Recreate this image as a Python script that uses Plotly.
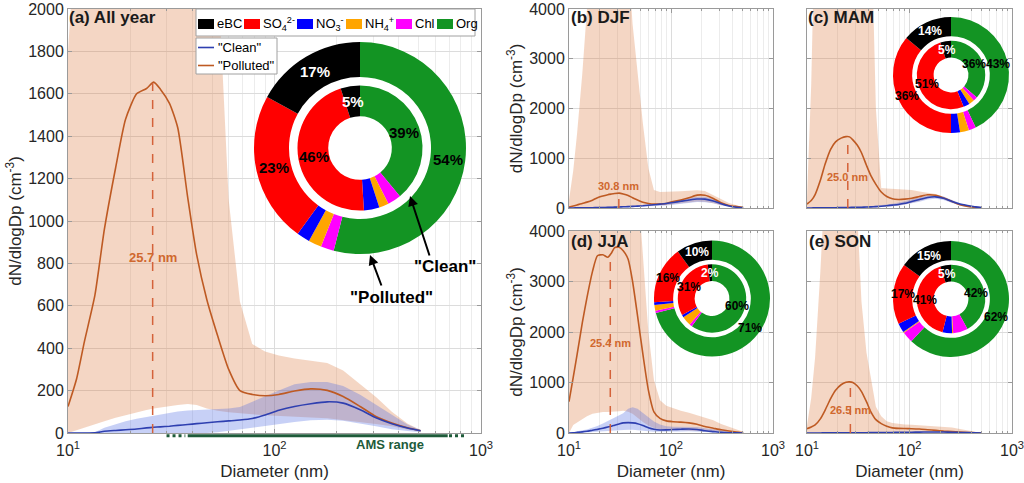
import numpy as np
import plotly.graph_objects as go

W, H = 1024, 483
FONT = "Liberation Sans, Arial, Helvetica, sans-serif"

# ---------------------------------------------------------------- data
diameter_nm = [10, 11, 12, 13.5, 15, 17, 19, 21.5, 24, 26, 28, 31, 34, 38, 42, 47,
               53, 60, 68, 78, 90, 105, 125, 150, 180, 215, 260, 310, 370, 440, 510]

# (a) All year
all_pol_mean = [125, 255, 430, 650, 960, 1250, 1480, 1600, 1625, 1655, 1622, 1555, 1440, 1110, 840, 630,
                460, 300, 200, 182, 176, 182, 198, 208, 201, 172, 125, 78, 47, 25, 11]
all_pol_hi = [1800, 2600, 3000, 3000, 3000, 3000, 3000, 3000, 3000, 3000, 3000, 3000, 3000, 3000, 3000, 3000,
              2200, 1100, 620, 420, 385, 365, 352, 342, 330, 295, 230, 170, 100, 45, 14]
all_pol_lo = [0, 10, 25, 40, 55, 72, 85, 97, 108, 115, 120, 127, 132, 137, 132, 115,
              105, 98, 92, 88, 84, 80, 76, 73, 70, 62, 52, 42, 32, 16, 8]
all_cln_mean = [0, 0, 0, 1, 8, 12, 15, 19, 24, 27, 29, 32, 36, 40, 44, 48,
                53, 57, 61, 68, 85, 107, 125, 138, 147, 141, 110, 72, 44, 24, 11]
all_cln_hi = [0, 0, 0, 3, 25, 42, 55, 67, 75, 80, 85, 95, 102, 106, 108, 108,
              110, 115, 123, 148, 172, 200, 230, 240, 240, 222, 180, 133, 85, 40, 14]
all_cln_lo = [0, 0, 0, 0, 0, 0, 0, 0, 0, 0, 0, 0, 0, 0, 0, 0,
              3, 8, 14, 22, 32, 42, 52, 60, 62, 58, 46, 32, 18, 9, 4]

# (b) DJF
djf_pol_mean = [20, 40, 60, 92, 118, 158, 205, 240, 268, 280, 290, 298, 282, 252, 205, 160,
                115, 92, 78, 80, 92, 130, 160, 205, 258, 255, 190, 105, 52, 30, 15]
djf_pol_hi = [160, 750, 1500, 2700, 4000, 5000, 5000, 5000, 5000, 5000, 5000, 5000, 5000, 5000, 3700, 2700,
              1700, 800, 360, 320, 320, 325, 335, 345, 355, 340, 260, 170, 100, 55, 15]
djf_pol_lo = [0, 0, 2, 3, 5, 7, 9, 11, 14, 16, 18, 20, 22, 24, 26, 30,
              35, 40, 48, 55, 62, 75, 90, 110, 130, 125, 95, 55, 28, 12, 5]
djf_cln_mean = [0, 1, 2, 3, 4, 6, 8, 10, 13, 15, 17, 20, 24, 28, 32, 38,
                45, 55, 65, 77, 90, 110, 135, 160, 180, 178, 140, 85, 40, 15, 5]
djf_cln_hi = [0, 2, 3, 5, 7, 9, 12, 15, 18, 21, 24, 28, 33, 38, 43, 50,
              58, 70, 82, 96, 112, 135, 165, 198, 228, 225, 180, 112, 55, 22, 7]
djf_cln_lo = [0, 0, 1, 1, 2, 3, 4, 5, 7, 8, 9, 11, 13, 15, 17, 20,
              24, 30, 36, 44, 52, 65, 80, 100, 120, 118, 95, 55, 25, 8, 3]

# (c) MAM
mam_pol_mean = [80, 150, 270, 556, 880, 1180, 1330, 1405, 1435, 1430, 1370, 1260, 1110, 860, 650, 475,
                320, 230, 185, 172, 178, 195, 230, 265, 255, 200, 130, 65, 33, 12, 3]
mam_pol_hi = [200, 2500, 6000, 6000, 6000, 6000, 6000, 6000, 6000, 6000, 6000, 6000, 6000, 6000, 6000, 2000,
              400, 390, 385, 380, 375, 360, 330, 300, 280, 225, 150, 85, 42, 16, 4]
mam_pol_lo = [0, 0, 0, 0, 0, 0, 0, 0, 0, 0, 0, 2, 4, 6, 8, 12,
              18, 25, 35, 50, 70, 100, 140, 190, 215, 175, 105, 50, 24, 8, 2]
mam_cln_mean = [0, 1, 2, 3, 4, 5, 6, 8, 10, 11, 12, 14, 16, 19, 22, 27,
                35, 46, 58, 72, 95, 130, 170, 212, 224, 195, 130, 80, 50, 22, 8]
mam_cln_hi = [0, 1, 2, 4, 6, 8, 10, 13, 16, 18, 20, 23, 27, 32, 37, 44,
              55, 70, 85, 105, 135, 175, 215, 250, 262, 232, 160, 100, 62, 28, 10]
mam_cln_lo = [0, 0, 1, 2, 2, 3, 3, 4, 5, 5, 6, 7, 8, 9, 11, 14,
              18, 25, 34, 45, 62, 92, 128, 172, 186, 160, 100, 60, 36, 15, 5]

# (d) JJA
jja_pol_mean = [621, 1100, 1550, 2180, 2680, 3200, 3510, 3530, 3480, 3560, 3670, 3680, 3610, 3440, 3000, 2320,
                1560, 850, 420, 290, 240, 224, 215, 200, 175, 128, 95, 64, 40, 20, 8]
jja_pol_hi = [6000, 6000, 6000, 6000, 6000, 6000, 6000, 6000, 6000, 6000, 6000, 6000, 6000, 6000, 6000, 5000,
              3500, 2000, 1050, 650, 540, 490, 440, 400, 350, 300, 250, 180, 120, 70, 25]
jja_pol_lo = [0, 160, 210, 280, 330, 380, 400, 415, 415, 415, 420, 430, 440, 420, 380, 300,
              220, 150, 100, 70, 60, 55, 52, 50, 45, 35, 25, 15, 8, 4, 1]
jja_cln_mean = [0, 5, 12, 22, 35, 55, 72, 95, 118, 135, 155, 180, 200, 205, 200, 185,
                150, 105, 75, 60, 62, 68, 75, 80, 70, 45, 28, 12, 6, 3, 1]
jja_cln_hi = [0, 20, 40, 55, 70, 100, 140, 190, 240, 270, 300, 350, 390, 480, 510, 480,
              400, 310, 230, 170, 135, 125, 125, 125, 118, 95, 72, 45, 22, 10, 3]
jja_cln_lo = [0, 1, 3, 6, 10, 16, 22, 30, 38, 44, 50, 58, 64, 66, 64, 58,
              48, 35, 25, 22, 24, 28, 32, 35, 30, 20, 12, 5, 2, 1, 0]

# (e) SON
son_pol_mean = [85, 120, 160, 280, 450, 680, 845, 955, 1005, 1013, 1000, 930, 820, 620, 420, 265,
                185, 135, 102, 92, 88, 85, 78, 65, 52, 38, 28, 18, 10, 4, 1]
son_pol_hi = [150, 700, 1500, 3200, 5000, 5000, 5000, 5000, 5000, 5000, 5000, 4300, 2600, 1600, 1080, 520,
              330, 235, 200, 180, 170, 163, 155, 145, 138, 132, 110, 80, 52, 28, 10]
son_pol_lo = [0, 0, 0, 0, 0, 0, 0, 0, 0, 0, 0, 2, 3, 4, 5, 6,
              8, 10, 12, 14, 15, 16, 17, 17, 16, 14, 11, 8, 5, 3, 1]
son_cln_mean = [0, 0, 1, 1, 2, 2, 3, 3, 4, 4, 5, 5, 6, 6, 7, 8,
                9, 10, 11, 12, 14, 16, 18, 20, 21, 20, 16, 11, 7, 3, 1]
son_cln_hi = [0, 1, 2, 3, 4, 5, 6, 7, 8, 9, 10, 11, 12, 13, 14, 15,
              17, 19, 21, 23, 25, 28, 31, 34, 35, 32, 25, 17, 11, 5, 2]
son_cln_lo = [0, 0, 0, 0, 1, 1, 1, 1, 2, 2, 2, 2, 3, 3, 3, 4,
              4, 5, 5, 6, 7, 8, 9, 10, 10, 10, 8, 5, 3, 1, 0]

peak_dp = [25.7, 30.8, 25.0, 25.4, 26.5]          # mode diameters of "Polluted" (nm)

# chemical composition (%), order: eBC, SO4, NO3, NH4, Chl, Org
comp_names = ["eBC", "SO4", "NO3", "NH4", "Chl", "Org"]
comp_legend = ["eBC", "SO<sub>4</sub><sup>2-</sup>", "NO<sub>3</sub><sup>-</sup>",
               "NH<sub>4</sub><sup>+</sup>", "Chl", "Org"]
all_pol_comp = [17, 23, 2, 2, 2, 54]
all_cln_comp = [5, 46, 4, 2.5, 3.5, 39]
mam_pol_comp = [14, 36, 2.5, 2.5, 2, 43]
mam_cln_comp = [5, 51, 3, 2.6, 2, 36.4]
jja_pol_comp = [10, 16, 0.8, 1.6, 0.6, 71]
jja_cln_comp = [2, 31, 1.2, 4.5, 1.3, 60]
son_pol_comp = [15, 17, 2.6, 0.3, 3.1, 62]
son_cln_comp = [5, 41, 4.5, 0.5, 7, 42]

ams_solid_nm = [38, 690]
ams_dotted_nm = [[30, 37], [700, 830]]

# ---------------------------------------------------------------- style
comp_colors = ["#000000", "#FF0000", "#0000FF", "#FFA500", "#FF00FF", "#139423"]
POL_LINE = "#BE5A23"
POL_FILL = "rgba(217,119,60,0.30)"
CLN_LINE = "#2E3FB0"
CLN_FILL = "rgba(70,100,225,0.30)"
PEAK_COL = "#D4623A"
LABEL_COL = "#D0682E"
AMS_COL = "#1E5B3A"
AXIS_COL = "#9A9A9A"
GRID_MAJ = "#DCDCDC"
GRID_MIN = "#ECECEC"
TXT = "#262626"

TOP = 9     # top edge (px) of the upper row of panels


def px(x):
    return x / W


def py(y):
    return 1 - y / H


panels = [
    dict(tag="(a) All year", xpx=(68, 481), ypx=(TOP, 433), ymax=2000, ytick=200,
         pol=all_pol_mean, pol_hi=all_pol_hi, pol_lo=all_pol_lo,
         cln=all_cln_mean, cln_hi=all_cln_hi, cln_lo=all_cln_lo,
         label_y=830, label_fs=13, xlab=True, ylab=True, tagpos=(67, 6)),
    dict(tag="(b) DJF", xpx=(569, 773), ypx=(TOP, 208), ymax=4000, ytick=1000,
         pol=djf_pol_mean, pol_hi=djf_pol_hi, pol_lo=djf_pol_lo,
         cln=djf_cln_mean, cln_hi=djf_cln_hi, cln_lo=djf_cln_lo,
         label_y=436, label_fs=11, xlab=False, ylab=True, tagpos=(569, 6)),
    dict(tag="(c) MAM", xpx=(807, 1012), ypx=(TOP, 208), ymax=4000, ytick=1000,
         pol=mam_pol_mean, pol_hi=mam_pol_hi, pol_lo=mam_pol_lo,
         cln=mam_cln_mean, cln_hi=mam_cln_hi, cln_lo=mam_cln_lo,
         label_y=614, label_fs=11, xlab=False, ylab=False, tagpos=(806, 6)),
    dict(tag="(d) JJA", xpx=(569, 773), ypx=(231, 433), ymax=4000, ytick=1000,
         pol=jja_pol_mean, pol_hi=jja_pol_hi, pol_lo=jja_pol_lo,
         cln=jja_cln_mean, cln_hi=jja_cln_hi, cln_lo=jja_cln_lo,
         label_y=1782, label_fs=11, xlab=True, ylab=True, tagpos=(569, 230)),
    dict(tag="(e) SON", xpx=(807, 1012), ypx=(231, 433), ymax=4000, ytick=1000,
         pol=son_pol_mean, pol_hi=son_pol_hi, pol_lo=son_pol_lo,
         cln=son_cln_mean, cln_hi=son_cln_hi, cln_lo=son_cln_lo,
         label_y=455, label_fs=11, xlab=True, ylab=False, tagpos=(807, 230)),
]

fig = go.Figure()
annotations = []
shapes = []
D = np.array(diameter_nm, dtype=float)
minor_vals = [v * m for m in (10, 100) for v in range(2, 10)]


def paper_text(x, y, text, size, color="black", xanchor="center", yanchor="middle", bold=False):
    annotations.append(dict(x=px(x), y=py(y), xref="paper", yref="paper", xanchor=xanchor,
                            yanchor=yanchor, showarrow=False,
                            text=("<b>%s</b>" % text) if bold else text,
                            font=dict(size=size, color=color, family=FONT)))


for i, p in enumerate(panels):
    n = "" if i == 0 else str(i + 1)
    xr, yr = "x" + n, "y" + n
    # polluted band
    fig.add_trace(go.Scatter(x=list(D) + list(D[::-1]), y=list(p["pol_hi"]) + list(p["pol_lo"])[::-1],
                             fill="toself", fillcolor=POL_FILL, mode="lines", line=dict(width=0),
                             hoverinfo="skip", showlegend=False, xaxis=xr, yaxis=yr))
    # clean band
    fig.add_trace(go.Scatter(x=list(D) + list(D[::-1]), y=list(p["cln_hi"]) + list(p["cln_lo"])[::-1],
                             fill="toself", fillcolor=CLN_FILL, mode="lines", line=dict(width=0),
                             hoverinfo="skip", showlegend=False, xaxis=xr, yaxis=yr))
    # mean lines
    fig.add_trace(go.Scatter(x=D, y=p["pol"], mode="lines", name='"Polluted"',
                             line=dict(color=POL_LINE, width=1.6, shape="spline", smoothing=0.6),
                             showlegend=False, xaxis=xr, yaxis=yr))
    fig.add_trace(go.Scatter(x=D, y=p["cln"], mode="lines", name='"Clean"',
                             line=dict(color=CLN_LINE, width=1.6, shape="spline", smoothing=0.6),
                             showlegend=False, xaxis=xr, yaxis=yr))
    # mode diameter dashed line
    pk = peak_dp[i]
    pk_val = float(np.interp(np.log10(pk), np.log10(D), p["pol"]))
    fig.add_trace(go.Scatter(x=[pk, pk], y=[0, pk_val], mode="lines",
                             line=dict(color=PEAK_COL, width=1.5, dash="dash"),
                             hoverinfo="skip", showlegend=False, xaxis=xr, yaxis=yr))
    annotations.append(dict(x=np.log10(pk), y=p["label_y"], xref=xr, yref=yr,
                            xanchor="center", yanchor="middle",
                            text="<b>%.1f nm</b>" % pk, showarrow=False,
                            font=dict(size=p["label_fs"], color=LABEL_COL, family=FONT)))
    # panel tag
    paper_text(p["tagpos"][0], p["tagpos"][1], p["tag"], 17, color="#1A1A1A",
               xanchor="left", yanchor="top", bold=True)

    xaxis = dict(domain=[px(p["xpx"][0]), px(p["xpx"][1])], type="log", range=[1, 3], anchor=yr,
                 tickvals=[10, 100, 1000], ticktext=["10<sup>1</sup>", "10<sup>2</sup>", "10<sup>3</sup>"],
                 showticklabels=p["xlab"], ticks="inside", ticklen=4, tickcolor=AXIS_COL,
                 ticklabelstandoff=3, ticklabeloverflow="allow",
                 showline=True, linecolor=AXIS_COL, linewidth=1, mirror="ticks",
                 showgrid=True, gridcolor=GRID_MAJ, zeroline=False, automargin=False,
                 tickfont=dict(size=16, color=TXT, family=FONT),
                 minor=dict(tickvals=minor_vals, showgrid=True, gridcolor=GRID_MIN,
                            ticks="inside", ticklen=2, tickcolor=AXIS_COL))
    if p["xlab"]:
        xaxis["title"] = dict(text="Diameter (nm)", font=dict(size=17, color=TXT, family=FONT), standoff=6)
    yaxis = dict(domain=[py(p["ypx"][1]), py(p["ypx"][0])], range=[0, p["ymax"]], anchor=xr,
                 dtick=p["ytick"], tick0=0, showticklabels=p["ylab"], ticks="inside", ticklen=4,
                 ticklabeloverflow="allow",
                 tickcolor=AXIS_COL, showline=True, linecolor=AXIS_COL, linewidth=1, mirror="ticks",
                 showgrid=True, gridcolor=GRID_MAJ, zeroline=False, automargin=False,
                 tickfont=dict(size=16, color=TXT, family=FONT))
    if p["ylab"]:
        yaxis["title"] = dict(text="dN/dlogDp (cm<sup>-3</sup>)",
                              font=dict(size=17, color=TXT, family=FONT), standoff=2)
    fig.update_layout(**{"xaxis" + n: xaxis, "yaxis" + n: yaxis})

# ---------------------------------------------------------------- donuts
OUT_HOLE = 0.67      # outer ring hole (fraction of outer radius)
IN_R = 0.59          # inner ring radius (fraction of outer radius)
IN_HOLE = 0.30       # inner ring hole (fraction of outer radius)

donuts = [
    dict(c=(360, 148), R=106, pol=all_pol_comp, cln=all_cln_comp, fs=15),
    dict(c=(951, 75), R=58, pol=mam_pol_comp, cln=mam_cln_comp, fs=12),
    dict(c=(712, 298.5), R=58, pol=jja_pol_comp, cln=jja_cln_comp, fs=12),
    dict(c=(951, 299), R=58, pol=son_pol_comp, cln=son_cln_comp, fs=12),
]


def dom(cx, cy, r):
    return dict(x=[px(cx - r), px(cx + r)], y=[py(cy + r), py(cy - r)])


def ring_labels(cx, cy, r_lab, vals, fs):
    # slices run counter-clockwise from 12 o'clock in the order eBC, SO4, NO3, NH4, Chl, Org
    tot = float(sum(vals))
    cum = 0.0
    for k, v in enumerate(vals):
        mid = (cum + v / 2.0) / tot * 2 * np.pi
        cum += v
        if k in (0, 1, 5):
            x = cx - r_lab * np.sin(mid)
            y = cy - r_lab * np.cos(mid)
            paper_text(x, y, "%.0f%%" % v, fs, color="white" if k == 0 else "black", bold=True)


rev_names = comp_names[::-1]
rev_colors = comp_colors[::-1]
for d in donuts:
    cx, cy = d["c"]
    R = d["R"]
    fig.add_trace(go.Pie(values=[1], labels=["bg"], marker=dict(colors=["white"]), sort=False,
                         textinfo="none", hoverinfo="skip", showlegend=False,
                         domain=dom(cx, cy, R * OUT_HOLE)))
    # drawn clockwise in reversed order == counter-clockwise from 12 o'clock in the legend order
    fig.add_trace(go.Pie(values=d["pol"][::-1], labels=rev_names, marker=dict(colors=rev_colors),
                         hole=OUT_HOLE, sort=False, direction="clockwise", rotation=0,
                         textinfo="none", showlegend=False, domain=dom(cx, cy, R)))
    fig.add_trace(go.Pie(values=d["cln"][::-1], labels=rev_names, marker=dict(colors=rev_colors),
                         hole=IN_HOLE / IN_R, sort=False, direction="clockwise", rotation=0,
                         textinfo="none", showlegend=False, domain=dom(cx, cy, R * IN_R)))
    ring_labels(cx, cy, R * (1 + OUT_HOLE) / 2, d["pol"], d["fs"])
    ring_labels(cx, cy, R * (IN_R + IN_HOLE) / 2, d["cln"], d["fs"])

# ---------------------------------------------------------------- legends (panel a)
# composition legend
shapes.append(dict(type="rect", xref="paper", yref="paper", x0=px(196), x1=px(475), y0=py(36), y1=py(TOP),
                   fillcolor="white", line=dict(color="#A0A0A0", width=1), layer="above"))
comp_label_w = [25, 32, 28, 29, 20, 22]
xcur = 198
for k in range(6):
    shapes.append(dict(type="rect", xref="paper", yref="paper", x0=px(xcur), x1=px(xcur + 16),
                       y0=py(29), y1=py(19), fillcolor=comp_colors[k], line=dict(width=0), layer="above"))
    paper_text(xcur + 17, 24, comp_legend[k], 13, xanchor="left")
    xcur += 16 + 1 + comp_label_w[k] + 4

# series legend
shapes.append(dict(type="rect", xref="paper", yref="paper", x0=px(196), x1=px(277), y0=py(74), y1=py(38),
                   fillcolor="white", line=dict(color="#A0A0A0", width=1), layer="above"))
for k, (name, col) in enumerate([('"Clean"', CLN_LINE), ('"Polluted"', POL_LINE)]):
    yy = 47.5 + 18 * k
    shapes.append(dict(type="line", xref="paper", yref="paper", x0=px(198), x1=px(214), y0=py(yy), y1=py(yy),
                       line=dict(color=col, width=1.6), layer="above"))
    paper_text(216, yy, name, 13, xanchor="left")

# arrows to rings
annotations.append(dict(x=px(410), y=py(196), xref="paper", yref="paper", ax=20, ay=61, text="",
                        showarrow=True, arrowhead=2, arrowsize=1, arrowwidth=2, arrowcolor="black"))
paper_text(445, 266, '"Clean"', 17, bold=True)
annotations.append(dict(x=px(370), y=py(255), xref="paper", yref="paper", ax=12, ay=32, text="",
                        showarrow=True, arrowhead=2, arrowsize=1, arrowwidth=2, arrowcolor="black"))
paper_text(391, 297, '"Polluted"', 17, bold=True)

# AMS range bar
yams = py(435.7)
shapes.append(dict(type="line", xref="x", yref="paper", x0=ams_solid_nm[0], x1=ams_solid_nm[1],
                   y0=yams, y1=yams, line=dict(color=AMS_COL, width=3)))
for seg in ams_dotted_nm:
    shapes.append(dict(type="line", xref="x", yref="paper", x0=seg[0], x1=seg[1], y0=yams, y1=yams,
                       line=dict(color=AMS_COL, width=3, dash="dot")))
paper_text(390, 444, "AMS range", 13, color=AMS_COL, bold=True)

fig.update_layout(width=W, height=H, margin=dict(l=0, r=0, t=0, b=0, autoexpand=False),
                  paper_bgcolor="white", plot_bgcolor="white", showlegend=False,
                  font=dict(family=FONT, color=TXT),
                  annotations=annotations, shapes=shapes)

fig.write_html("out.html")
